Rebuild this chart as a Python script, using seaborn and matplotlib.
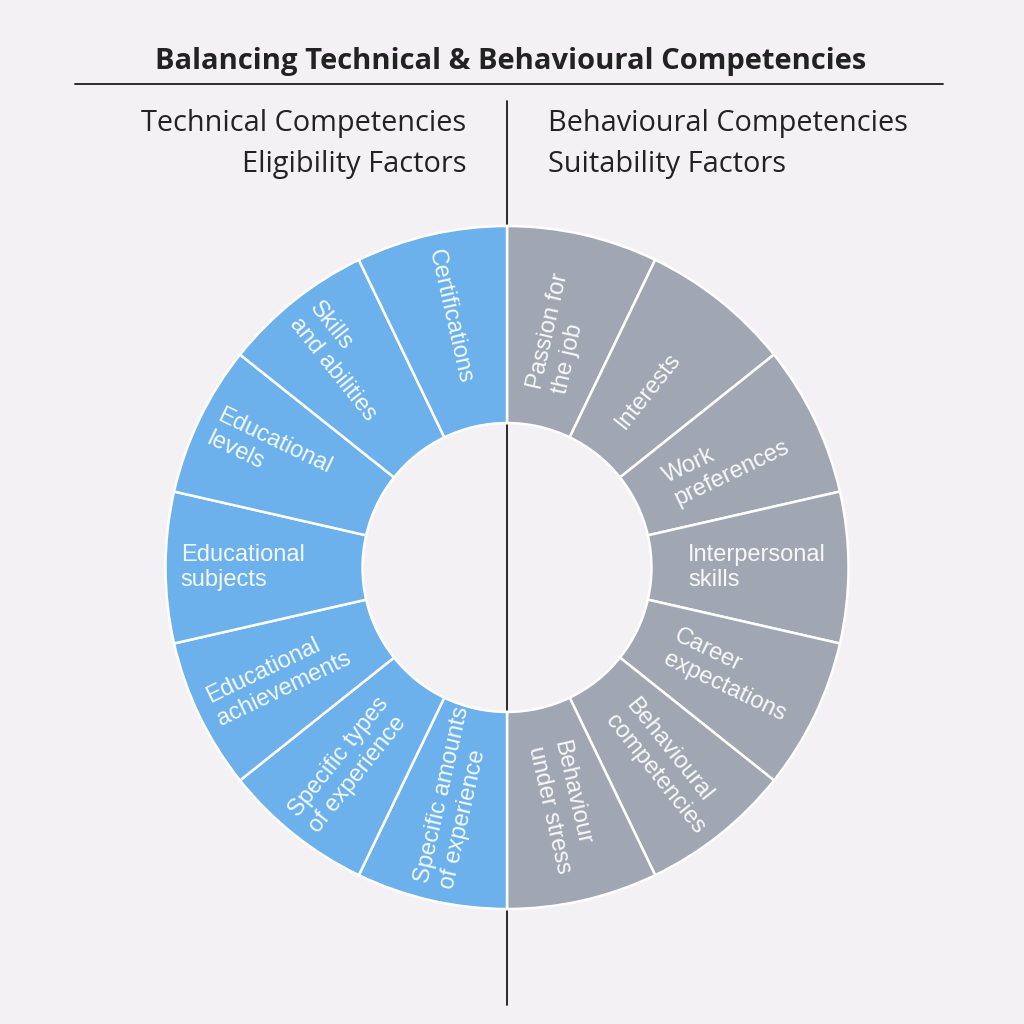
import matplotlib
matplotlib.use("Agg")
import matplotlib.pyplot as plt
import numpy as np
import seaborn as sns
from matplotlib.lines import Line2D

# segments, clockwise from 12 o'clock
behavioural_labels = [
    "Passion for\nthe job",
    "Interests",
    "Work\npreferences",
    "Interpersonal\nskills",
    "Career\nexpectations",
    "Behavioural\ncompetencies",
    "Behaviour\nunder stress",
]
technical_labels = [
    "Specific amounts\nof experience",
    "Specific types\nof experience",
    "Educational\nachievements",
    "Educational\nsubjects",
    "Educational\nlevels",
    "Skills\nand abilities",
    "Certifications",
]
segment_weights = [1] * (len(behavioural_labels) + len(technical_labels))

title = "Balancing Technical & Behavioural Competencies"
left_heading = "Technical Competencies\nEligibility Factors"
right_heading = "Behavioural Competencies\nSuitability Factors"

BG = "#f3f1f4"
BLUE = "#6cb1eb"
GREY = "#a1a7b2"

sns.set_theme(style="white")
plt.rcParams["font.family"] = ["Liberation Sans", "DejaVu Sans"]

fig = plt.figure(figsize=(10.24, 10.24), dpi=100, facecolor=BG)

# donut axes: centre (507, 567.5) px, outer radius 341.5 px
cx, cy, r_out = 507 / 1024, 1 - 567.5 / 1024, 341.5 / 1024
ax = fig.add_axes([cx - r_out, cy - r_out, 2 * r_out, 2 * r_out])
ax.set_facecolor("none")

colors = [GREY] * len(behavioural_labels) + [BLUE] * len(technical_labels)
labels = behavioural_labels + technical_labels
wedges, _ = ax.pie(
    segment_weights,
    colors=colors,
    startangle=90,
    counterclock=False,
    radius=1.0,
    wedgeprops={"width": 0.577, "edgecolor": "white", "linewidth": 1.8},
)
ax.set_xlim(-1, 1)
ax.set_ylim(-1, 1)
ax.set_aspect("equal")

# left half: text starts near the outer rim and reads inwards;
# right half: text starts near the hole and reads outwards
for wedge, text in zip(wedges, labels):
    mid = (wedge.theta1 + wedge.theta2) / 2
    mid_norm = (mid + 360) % 360
    if 90 < mid_norm < 270:
        rot = mid_norm - 180
        r_anchor = 0.955
    else:
        rot = mid_norm if mid_norm <= 90 else mid_norm - 360
        r_anchor = 0.53
    rad = np.deg2rad(mid_norm)
    x, y = r_anchor * np.cos(rad), r_anchor * np.sin(rad)
    ax.text(x, y, text, ha="left", va="center", rotation=rot,
            rotation_mode="anchor", multialignment="left",
            color="white", alpha=0.92, fontsize=17, linespacing=1.22)

# rules
fig.add_artist(Line2D([75 / 1024, 943 / 1024], [1 - 84 / 1024] * 2,
                      transform=fig.transFigure, color="#1a1a1a", linewidth=1.3, zorder=-1))
fig.add_artist(Line2D([507 / 1024] * 2, [1 - 101 / 1024, 1 - 1005 / 1024],
                      transform=fig.transFigure, color="#1a1a1a", linewidth=1.3, zorder=-1))

fig.text(511 / 1024, 1 - 61 / 1024, title, ha="center", va="center",
         fontsize=21, fontweight="bold", color="#222222",
         family=["Open Sans", "DejaVu Sans"])
fig.text(466 / 1024, 1 - 144 / 1024, left_heading, ha="right", va="center",
         multialignment="right", fontsize=20.8, color="#222222",
         family=["Open Sans", "DejaVu Sans"], linespacing=1.55)
fig.text(548 / 1024, 1 - 144 / 1024, right_heading, ha="left", va="center",
         multialignment="left", fontsize=20.8, color="#222222",
         family=["Open Sans", "DejaVu Sans"], linespacing=1.55)

fig.savefig("out.png", dpi=100, facecolor=BG)
